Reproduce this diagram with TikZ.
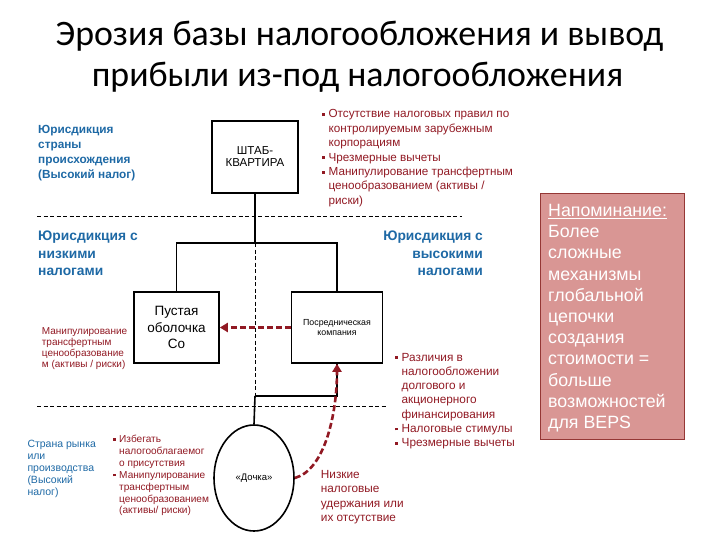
\documentclass[tikz,border=0pt]{standalone}
\usepackage{fontspec}
\setmainfont{Liberation Sans}
\newfontfamily\titlefont{Carlito}
\usetikzlibrary{arrows.meta,shapes.geometric}
\definecolor{dred}{RGB}{145,25,35}
\definecolor{jblue}{RGB}{30,105,165}
\definecolor{notefill}{RGB}{217,150,148}
\definecolor{noteline}{RGB}{149,55,53}
\newcommand\Ltab[1]{\begin{tabular}[t]{@{}l@{}}#1\end{tabular}}
\newcommand\Rtab[1]{\begin{tabular}[t]{@{}r@{}}#1\end{tabular}}
\newcommand\Btab[1]{\begin{tabular}[t]{@{}l@{\hspace{3.5pt}}l@{}}#1\end{tabular}}
\newcommand\sq{\rule[0.17em]{0.25em}{0.25em}}
\begin{document}
\begin{tikzpicture}[x=1pt,y=-1pt,
  lbl/.style={inner sep=0pt, anchor=base west},
  orgbox/.style={draw, line width=1.6pt, inner sep=0pt, align=center},
  tie/.style={line width=1.6pt},
  sep/.style={line width=0.8pt, dash pattern=on 4pt off 2.5pt},
  redarrow/.style={dred, line width=2.6pt, dash pattern=on 6pt off 3pt, -{Triangle[length=8pt,width=9pt]}}]
\useasboundingbox (0,0) rectangle (720,540);

% title
\node[inner sep=0pt, anchor=base, font=\titlefont\fontsize{35.8}{40}\selectfont] (t1) at (359.5,46) {Эрозия базы налогообложения и вывод};
\node[inner sep=0pt, anchor=base, font=\titlefont\fontsize{35.8}{40}\selectfont] (t2) at (357.5,87) {прибыли из-под налогообложения};

% jurisdiction labels
\node[lbl, font=\bfseries\fontsize{11.8}{14.7}\selectfont, text=jblue] (home) at (38,134) {\Ltab{Юрисдикция\\страны\\происхождения\\(Высокий налог)}};
\node[lbl, font=\bfseries\fontsize{13.8}{17.5}\selectfont, text=jblue] (low) at (38,240.7) {\Ltab{Юрисдикция с\\низкими\\налогами}};
\node[lbl, anchor=base east, font=\bfseries\fontsize{13.8}{17.5}\selectfont, text=jblue] (high) at (483,240.7) {\Rtab{Юрисдикция с\\высокими\\налогами}};
\node[lbl, font=\fontsize{10.5}{12}\selectfont, text=jblue] (mkt) at (27.3,447) {\Ltab{Страна рынка\\или\\производства\\(Высокий\\налог)}};

% entities
\node[orgbox, minimum width=86, minimum height=72, font=\fontsize{11.5}{12}\selectfont] (hq) at (255,157) {ШТАБ-\\КВАРТИРА};
\node[orgbox, minimum width=85, minimum height=71, font=\fontsize{13.5}{16.5}\selectfont] (shell) at (176.5,327.5) {Пустая\\оболочка\\Co};
\node[orgbox, minimum width=91, minimum height=71, font=\fontsize{8.8}{10}\selectfont] (inter) at (337,327.5) {Посредническая\\компания};
\node[draw, ellipse, line width=1.6pt, minimum width=80, minimum height=106, inner sep=0pt, font=\fontsize{9.5}{11}\selectfont] (sub) at (254,478) {«Дочка»};

% red texts
\node[lbl, font=\fontsize{11.7}{14.4}\selectfont, text=dred] (cfc) at (322,118) {\Btab{\sq & Отсутствие налоговых правил по\\ & контролируемым зарубежным\\ & корпорациям\\ \sq & Чрезмерные вычеты\\ \sq & Манипулирование трансфертным\\ & ценообразованием (активы /\\ & риски)}};
\node[lbl, font=\fontsize{10}{11.1}\selectfont, text=dred] (tp) at (41.7,334) {\Ltab{Манипулирование\\трансфертным\\ценообразование\\м (активы / риски)}};
\node[lbl, font=\fontsize{11.8}{14.3}\selectfont, text=dred] (debt) at (395,361) {\Btab{\sq & Различия в\\ & налогообложении\\ & долгового и\\ & акционерного\\ & финансирования\\ \sq & Налоговые стимулы\\ \sq & Чрезмерные вычеты}};
\node[lbl, font=\fontsize{10.1}{11.9}\selectfont, text=dred] (avoid) at (113,442.5) {\Btab{\sq & Избегать\\ & налогооблагаемог\\ & о присутствия\\ \sq & Манипулирование\\ & трансфертным\\ & ценообразованием\\ & (активы/ риски)}};
\node[lbl, font=\fontsize{11.8}{14.4}\selectfont, text=dred] (wht) at (320.7,478.3) {\Ltab{Низкие\\налоговые\\удержания или\\их отсутствие}};

% reminder
\node[draw=noteline, fill=notefill, line width=1.2pt, minimum width=144, minimum height=246, anchor=north west, inner sep=0pt] (note) at (540,193) {};
\node[lbl, text=white, font=\fontsize{17.8}{21.2}\selectfont] (notetxt) at (548,216.5) {\Ltab{\underline{Напоминание:}\\Более\\сложные\\механизмы\\глобальной\\цепочки\\создания\\стоимости =\\больше\\возможностей\\для BEPS}};

% dividers
\coordinate (d1a) at (37,216);
\coordinate (d1b) at (462,216);
\coordinate (d2a) at (37,406);
\coordinate (d2b) at (387,406);
\draw[sep] (d1a) -- (d1b);
\draw[sep] (d2a) -- (d2b);

% ownership
\coordinate (j1) at (255,243);
\coordinate (j2) at (255,396);
\draw[sep] (j1) -- (j2);
\draw[tie] (hq.south) -- (j1);
\draw[tie] (j1) -| (shell.north);
\draw[tie] (j1) -| (inter.north);
\draw[tie] (inter.south) |- (j2);
\draw[tie] (j2) -- (sub.north);

% flows
\draw[redarrow] (inter.west) -- (shell.east);
\draw[redarrow] (sub.east) .. controls +(30,-8) and +(0,50) .. (inter.south);
\end{tikzpicture}
\end{document}
